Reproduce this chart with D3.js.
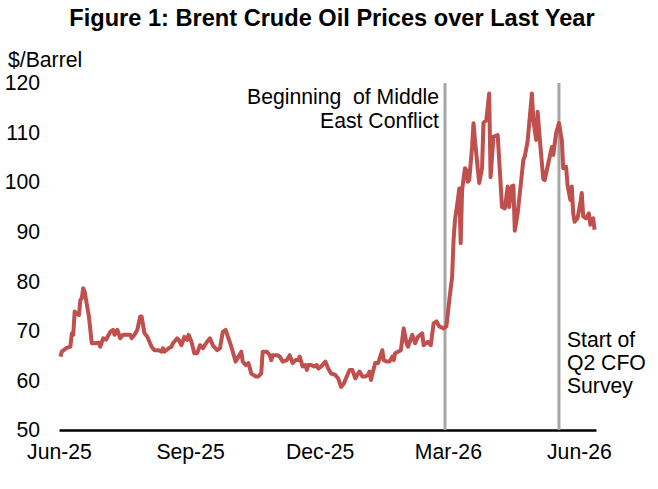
<!DOCTYPE html>
<html>
<head>
<meta charset="utf-8">
<script src="https://cdn.jsdelivr.net/npm/d3@7"></script>
<style>
  body { margin: 0; background: #fff; }
  text { font-family: "Liberation Sans", Arial, sans-serif; fill: #000; }
</style>
</head>
<body>
<div id="chart"></div>
<script>
// Brent price readings (dates, $/barrel)
const dates = [
  "2025-06-02","2025-06-03","2025-06-06","2025-06-09","2025-06-10","2025-06-11","2025-06-12","2025-06-13",
  "2025-06-15","2025-06-16","2025-06-17","2025-06-18","2025-06-19","2025-06-22","2025-06-24","2025-06-26",
  "2025-06-29","2025-06-30","2025-07-02","2025-07-04","2025-07-07","2025-07-09","2025-07-10","2025-07-12",
  "2025-07-14","2025-07-16","2025-07-19","2025-07-21","2025-07-22","2025-07-24","2025-07-26","2025-07-28",
  "2025-07-29","2025-07-31","2025-08-02","2025-08-05","2025-08-07","2025-08-10","2025-08-12","2025-08-13",
  "2025-08-14","2025-08-17","2025-08-19","2025-08-20","2025-08-23","2025-08-24","2025-08-26","2025-08-28",
  "2025-08-30","2025-08-31","2025-09-02","2025-09-04","2025-09-06","2025-09-08","2025-09-10","2025-09-13",
  "2025-09-15","2025-09-17","2025-09-20","2025-09-22","2025-09-24","2025-09-26","2025-09-28","2025-09-30",
  "2025-10-03","2025-10-05","2025-10-07","2025-10-08","2025-10-10","2025-10-12","2025-10-14","2025-10-17",
  "2025-10-19","2025-10-21","2025-10-22","2025-10-25","2025-10-27","2025-10-28","2025-10-29","2025-11-01",
  "2025-11-03","2025-11-05","2025-11-08","2025-11-10","2025-11-12","2025-11-14","2025-11-16","2025-11-17",
  "2025-11-19","2025-11-21","2025-11-22","2025-11-23","2025-11-25","2025-11-27","2025-11-29","2025-11-30",
  "2025-12-02","2025-12-05","2025-12-07","2025-12-09","2025-12-12","2025-12-14","2025-12-16","2025-12-18",
  "2025-12-20","2025-12-22","2025-12-24","2025-12-26","2025-12-28","2025-12-29","2025-12-31","2026-01-02",
  "2026-01-04","2026-01-05","2026-01-06","2026-01-08","2026-01-09","2026-01-11","2026-01-14","2026-01-15",
  "2026-01-17","2026-01-19","2026-01-21","2026-01-22","2026-01-23","2026-01-25","2026-01-27","2026-01-29",
  "2026-01-31","2026-02-01","2026-02-04","2026-02-06","2026-02-08","2026-02-11","2026-02-12","2026-02-15",
  "2026-02-17","2026-02-19","2026-02-21","2026-02-23","2026-02-26","2026-02-28","2026-03-02","2026-03-04",
  "2026-03-05","2026-03-06","2026-03-08","2026-03-09","2026-03-10","2026-03-11","2026-03-13","2026-03-14",
  "2026-03-15","2026-03-16","2026-03-18","2026-03-19","2026-03-20","2026-03-23","2026-03-25","2026-03-26",
  "2026-03-28","2026-03-30","2026-03-31","2026-04-02","2026-04-05","2026-04-08","2026-04-10","2026-04-12",
  "2026-04-13","2026-04-15","2026-04-16","2026-04-17","2026-04-19","2026-04-21","2026-04-23","2026-04-24",
  "2026-04-26","2026-04-29","2026-04-30","2026-05-02","2026-05-03","2026-05-05","2026-05-07","2026-05-08",
  "2026-05-10","2026-05-12","2026-05-13","2026-05-14","2026-05-16","2026-05-18","2026-05-20","2026-05-21",
  "2026-05-23","2026-05-24","2026-05-26","2026-05-27","2026-05-28","2026-05-29","2026-05-31","2026-06-02",
  "2026-06-03","2026-06-04","2026-06-06","2026-06-08","2026-06-09","2026-06-11","2026-06-12"
];
const prices = [
  64.8,65.8,66.5,66.8,69.5,69.2,73.9,73.5,
  73.2,76.2,76.6,78.6,77.9,72.9,67.5,67.5,
  67.6,66.8,68.5,68.2,69.8,70.2,69.2,70.2,
  68.5,69.2,69.2,69.2,68.5,69.2,70.2,72.9,
  72.9,69.5,68.8,66.8,66.1,66.1,65.8,66.5,
  65.8,66.5,66.8,67.5,68.5,68.2,67.1,68.8,
  68.2,69.2,67.8,65.5,65.5,67.1,66.5,67.8,
  68.5,67.1,66.1,66.5,69.8,70.2,68.5,66.8,
  63.8,64.8,65.8,63.8,63.1,63.5,61.4,60.8,
  60.8,61.4,65.8,65.8,65.1,64.1,65.1,65.1,
  64.8,63.8,64.1,65.1,63.5,64.1,64.1,64.8,
  62.8,63.1,62.1,63.1,63.1,62.8,63.1,62.4,
  62.8,63.8,62.4,61.4,61.1,60.4,58.7,59.4,
  60.8,62.1,62.1,60.4,61.4,61.8,60.8,60.8,
  61.1,61.8,60.1,62.4,63.5,63.5,66.1,64.1,
  63.8,63.8,64.8,64.1,65.5,65.8,66.1,70.5,
  67.5,66.8,69.2,67.5,68.8,69.5,67.1,67.8,
  67.1,71.5,71.9,70.9,70.5,70.9,76.2,80.9,
  88.3,92.4,96.4,98.7,87.7,98.4,102.8,102.4,
  100.1,100.4,107.1,111.9,108.5,99.8,102.8,112.0,
  112.5,117.9,101.0,109.2,109.5,95.0,94.7,99.1,
  95.0,99.2,99.3,90.2,93.7,99.0,104.5,105.2,
  108.2,117.9,112.5,108.5,114.2,107.1,100.6,100.4,
  103.1,105.8,107.1,105.5,109.9,111.9,108.5,102.8,
  103.1,99.4,96.4,99.1,93.7,92.0,92.7,95.7,
  97.8,93.1,92.7,93.7,91.4,92.7,90.4
];

const yTicks = [50, 60, 70, 80, 90, 100, 110, 120];
const xTickDates = ["2025-06-01", "2025-09-01", "2025-12-01", "2026-03-01", "2026-06-01"];
const eventDates = ["2026-02-27", "2026-05-18"];
const eventLabels = [["Beginning  of Middle", "East Conflict"], ["Start of", "Q2 CFO", "Survey"]];

const parse = d3.timeParse("%Y-%m-%d");
const data = dates.map((d, i) => ({ date: parse(d), price: prices[i] }));

const width = 658, height = 489;
const fs = "21.2px";
const svg = d3.select("#chart").append("svg")
  .attr("width", width)
  .attr("height", height);

const x = d3.scaleTime()
  .domain([parse("2025-06-01"), parse("2026-06-13")])
  .range([59, 596]);
const y = d3.scaleLinear().domain([50, 120]).range([430, 83]);

// title
svg.append("text")
  .attr("x", 332).attr("y", 26)
  .attr("text-anchor", "middle")
  .style("font-size", "23.6px").style("font-weight", "bold")
  .text("Figure 1: Brent Crude Oil Prices over Last Year");

svg.append("text")
  .attr("x", 8).attr("y", 67)
  .style("font-size", fs)
  .text("$/Barrel");

// y axis labels (no line)
const yAxis = svg.append("g")
  .attr("transform", "translate(40,0)")
  .call(d3.axisLeft(y).tickValues(yTicks).tickSize(0).tickPadding(0));
yAxis.select(".domain").remove();
yAxis.selectAll("text").style("font-size", fs).attr("font-family", null);

// x axis
const xAxis = svg.append("g")
  .attr("transform", "translate(0,430)")
  .call(d3.axisBottom(x).tickValues(xTickDates.map(parse)).tickSize(0).tickPadding(14)
    .tickFormat(d3.timeFormat("%b-%y")));
xAxis.select(".domain").attr("stroke", "#000").attr("stroke-width", 2.5);
xAxis.selectAll("text").style("font-size", fs).attr("font-family", null);

// event lines
svg.selectAll(".event")
  .data(eventDates)
  .enter().append("line")
  .attr("class", "event")
  .attr("x1", d => x(parse(d))).attr("x2", d => x(parse(d)))
  .attr("y1", y(120)).attr("y2", y(50))
  .attr("stroke", "#a6a6a6").attr("stroke-width", 3);

// price line
svg.append("path")
  .datum(data)
  .attr("fill", "none")
  .attr("stroke", "#c0504d")
  .attr("stroke-width", 4)
  .attr("stroke-linejoin", "round")
  .attr("d", d3.line().x(d => x(d.date)).y(d => y(d.price)));

// annotations
const ann1 = svg.append("text")
  .attr("text-anchor", "end")
  .style("font-size", fs)
  .style("white-space", "pre");
eventLabels[0].forEach((t, i) => {
  ann1.append("tspan").attr("x", x(parse(eventDates[0])) - 6).attr("y", 104 + i * 24).text(t);
});
const ann2 = svg.append("text")
  .style("font-size", fs);
eventLabels[1].forEach((t, i) => {
  ann2.append("tspan").attr("x", x(parse(eventDates[1])) + 8).attr("y", 347 + i * 23).text(t);
});
</script>
</body>
</html>
